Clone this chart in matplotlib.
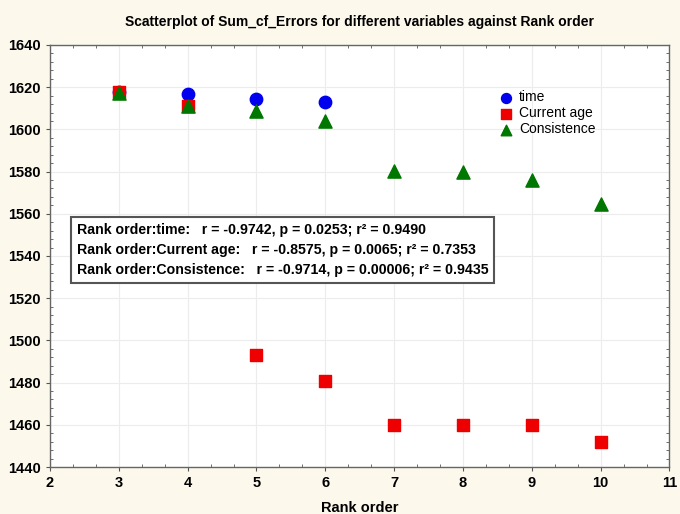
import matplotlib.pyplot as plt
from matplotlib.ticker import MultipleLocator

rank = [3, 4, 5, 6, 7, 8, 9, 10]
time_x = [3, 4, 5, 6]
time_y = [1617.5, 1617, 1614.5, 1612.8]
age_y = [1617.5, 1611, 1493.3, 1481, 1460, 1460, 1460, 1452]
cons_y = [1617.3, 1611.3, 1608.7, 1604.2, 1580.5, 1579.8, 1576, 1564.5]

stats = ("Rank order:time:   r = -0.9742, p = 0.0253; r\u00b2 = 0.9490\n"
         "Rank order:Current age:   r = -0.8575, p = 0.0065; r\u00b2 = 0.7353\n"
         "Rank order:Consistence:   r = -0.9714, p = 0.00006; r\u00b2 = 0.9435")

plt.rcParams['font.family'] = ['Liberation Sans', 'DejaVu Sans']

fig = plt.figure(figsize=(6.8, 5.14), dpi=100, facecolor='#fcf8ec')
ax = fig.add_axes([0.0735, 0.0914, 0.911, 0.8211])
ax.set_facecolor('white')

ax.scatter(time_x, time_y, s=80, marker='o', color='#0000ee', label='time', zorder=3)
ax.scatter(rank, age_y, s=80, marker='s', color='#ee0000', label='Current age', zorder=3)
ax.scatter(rank, cons_y, s=90, marker='^', color='#007700', label='Consistence', zorder=4)

ax.set_xlim(2, 11)
ax.set_ylim(1440, 1640)
ax.xaxis.set_major_locator(MultipleLocator(1))
ax.xaxis.set_minor_locator(MultipleLocator(1/3))
ax.yaxis.set_major_locator(MultipleLocator(20))
ax.yaxis.set_minor_locator(MultipleLocator(4))
ax.tick_params(which='major', direction='out', labelsize=10.5, length=3, color='#555555')
ax.tick_params(which='minor', direction='in', top=True, right=True, length=2, color='#555555')
for lbl in ax.get_xticklabels() + ax.get_yticklabels():
    lbl.set_fontweight('bold')
ax.grid(True, which='major', color='#ececec', linewidth=0.8)
ax.set_axisbelow(True)
for sp in ax.spines.values():
    sp.set_color('#666666')
    sp.set_linewidth(1.0)

ax.set_title('Scatterplot of Sum_cf_Errors for different variables against Rank order',
             fontsize=10, fontweight='bold', pad=14)
ax.set_xlabel('Rank order', fontsize=10.5, fontweight='bold', labelpad=8)

ax.legend(loc='upper left', bbox_to_anchor=(0.71, 0.916), frameon=False,
          fontsize=10, handletextpad=0.4, labelspacing=0.15, borderpad=0.2,
          handlelength=1.0, markerscale=0.8)

ax.text(0.043, 0.578, stats, transform=ax.transAxes, fontsize=10.2,
        fontweight='bold', va='top', ha='left', linespacing=1.55,
        bbox=dict(boxstyle='square,pad=0.4', facecolor='white', edgecolor='#555555', linewidth=1.5))

fig.savefig('out.png', dpi=100, facecolor=fig.get_facecolor())
